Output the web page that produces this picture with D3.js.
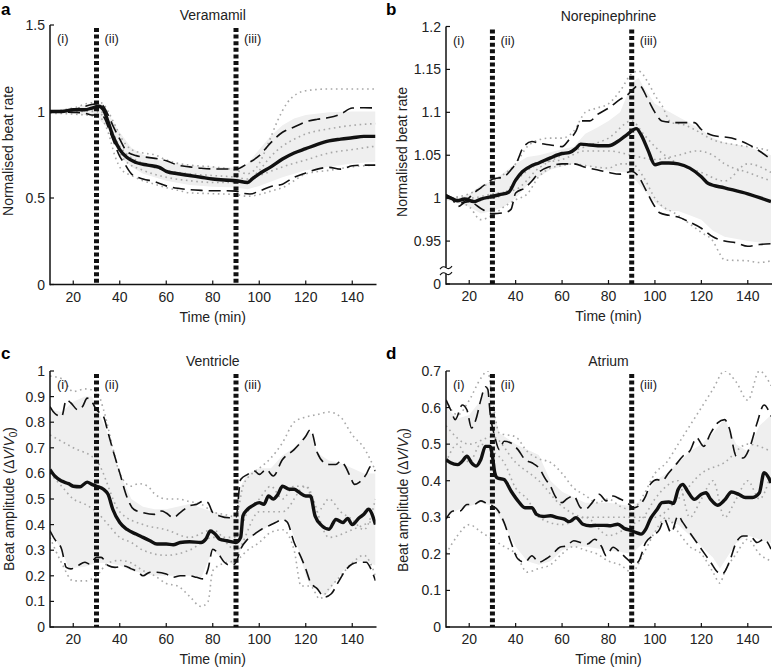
<!DOCTYPE html>
<html><head><meta charset="utf-8">
<script src="https://cdn.jsdelivr.net/npm/d3@7"></script>
<style>
body{margin:0;background:#fff;}
svg text{font-family:"Liberation Sans",Arial,Helvetica,sans-serif;fill:#222;}
</style></head>
<body><svg id="chart" width="773" height="669"></svg>
<script>
// ---------- shared ----------
const xTicks = [20, 40, 60, 80, 100, 120, 140];
const phaseTimes = [30, 90];
const phaseLabels = ["(i)", "(ii)", "(iii)"];

// ---------- panel a : Veramamil ----------
const aYTicks = [0, 0.5, 1, 1.5];
const aYLabels = ["0", "0.5", "1", "1.5"];
const aMean = [[10,1.0],[15,1.0],[20,1.01],[25,1.01],[28,1.02],[31,1.03],[33,1.01],[35,0.94],[37,0.86],[40,0.78],[43,0.735],[47,0.705],[52,0.69],[57,0.677],[60,0.654],[65,0.64],[70,0.63],[75,0.62],[80,0.61],[85,0.604],[90,0.60],[95,0.59],[97,0.61],[100,0.64],[105,0.68],[110,0.725],[115,0.76],[120,0.785],[125,0.81],[130,0.83],[135,0.84],[140,0.848],[145,0.856],[150,0.856]];
const aUpper = [[10,1.0],[20,1.01],[25,1.03],[28,1.04],[31,1.045],[33,1.03],[35,0.98],[37,0.92],[40,0.84],[43,0.77],[47,0.745],[52,0.735],[57,0.725],[60,0.715],[65,0.69],[70,0.68],[75,0.672],[80,0.668],[85,0.668],[90,0.667],[95,0.70],[100,0.745],[105,0.82],[110,0.88],[115,0.91],[120,0.94],[125,0.955],[130,0.965],[135,0.985],[140,1.02],[145,1.022],[150,1.02]];
const aLower = [[10,1.0],[20,0.995],[25,0.99],[28,0.98],[31,0.98],[33,0.97],[35,0.91],[37,0.84],[40,0.74],[42,0.70],[45,0.64],[50,0.61],[55,0.595],[60,0.57],[65,0.556],[70,0.548],[75,0.544],[80,0.542],[85,0.542],[90,0.54],[93,0.527],[96,0.523],[100,0.54],[105,0.567],[110,0.58],[115,0.62],[120,0.645],[125,0.667],[130,0.677],[135,0.667],[140,0.686],[145,0.69],[150,0.69]];
const aBandHi = [[10,1.01],[20,1.02],[30,1.05],[33,1.04],[35,0.99],[40,0.88],[45,0.79],[50,0.75],[60,0.71],[70,0.69],[80,0.68],[90,0.675],[95,0.70],[100,0.78],[105,0.86],[110,0.92],[115,0.96],[120,0.98],[130,0.995],[140,1.0],[150,1.0]];
const aBandLo = [[10,0.99],[20,0.99],[30,0.97],[35,0.90],[40,0.74],[45,0.68],[50,0.64],[60,0.60],[70,0.575],[80,0.565],[90,0.56],[95,0.55],[100,0.57],[110,0.62],[120,0.66],[130,0.68],[140,0.70],[150,0.71]];
const aDot1 = [[10,1.0],[20,1.02],[28,1.05],[32,1.05],[35,1.0],[38,0.92],[41,0.84],[45,0.78],[50,0.76],[55,0.75],[60,0.72],[65,0.70],[70,0.69],[80,0.68],[90,0.66],[95,0.64],[100,0.70],[104,0.82],[108,0.95],[112,1.05],[116,1.10],[120,1.12],[130,1.13],[140,1.13],[150,1.13]];
const aDot2 = [[10,0.99],[20,0.985],[28,0.975],[32,0.96],[35,0.88],[38,0.74],[41,0.66],[45,0.63],[50,0.60],[55,0.58],[60,0.56],[65,0.545],[70,0.53],[80,0.525],[90,0.52],[95,0.51],[100,0.52],[105,0.54],[110,0.56],[115,0.60],[120,0.64],[130,0.66],[140,0.68],[150,0.69]];
const aDot3 = [[10,1.0],[20,1.0],[30,1.01],[34,0.97],[38,0.82],[42,0.72],[50,0.66],[60,0.62],[70,0.60],[80,0.59],[90,0.59],[95,0.60],[100,0.66],[105,0.74],[110,0.80],[115,0.84],[120,0.87],[130,0.90],[140,0.92],[150,0.93]];
const aDot4 = [[10,1.0],[30,1.0],[35,0.93],[40,0.80],[50,0.70],[60,0.66],[70,0.64],[80,0.63],[90,0.62],[95,0.61],[100,0.63],[110,0.68],[120,0.72],[130,0.76],[140,0.78],[150,0.80]];

// ---------- panel b : Norepinephrine ----------
const bYTicks = [0.9, 0.95, 1, 1.05, 1.1, 1.15, 1.2];
const bYLabels = ["0", "0.95", "1", "1.05", "1.1", "1.15", "1.2"];
const bMean = [[10,1.002],[13,0.999],[15,0.997],[18,0.999],[22,0.996],[25,0.999],[30,1.002],[33,1.004],[37,1.007],[40,1.021],[43,1.031],[47,1.038],[50,1.041],[55,1.047],[60,1.052],[63,1.053],[66,1.058],[68,1.063],[72,1.062],[77,1.061],[80,1.061],[85,1.068],[88,1.074],[92,1.081],[94,1.074],[97,1.056],[100,1.039],[103,1.041],[106,1.041],[110,1.040],[115,1.035],[120,1.025],[123,1.017],[130,1.012],[140,1.005],[150,0.996]];
const bUpper = [[10,1.004],[13,1.0],[16,0.994],[19,0.998],[22,1.006],[25,1.012],[30,1.022],[35,1.025],[38,1.033],[41,1.045],[43,1.058],[47,1.066],[50,1.064],[55,1.062],[60,1.06],[63,1.068],[66,1.078],[68,1.09],[72,1.09],[75,1.097],[80,1.105],[85,1.115],[88,1.12],[91,1.128],[93,1.132],[97,1.115],[100,1.10],[103,1.09],[110,1.088],[117,1.088],[120,1.08],[125,1.073],[133,1.07],[140,1.063],[145,1.055],[150,1.045]];
const bLower = [[10,1.004],[13,0.998],[15,0.99],[18,0.995],[20,0.996],[25,0.988],[30,0.982],[35,0.983],[38,0.987],[40,1.006],[44,1.012],[47,1.02],[50,1.03],[55,1.037],[60,1.04],[65,1.04],[70,1.036],[75,1.033],[80,1.03],[85,1.028],[90,1.031],[93,1.025],[96,1.01],[100,0.99],[102,0.983],[106,0.98],[110,0.978],[115,0.972],[120,0.965],[125,0.955],[130,0.95],[135,0.948],[140,0.944],[145,0.946],[150,0.947]];
const bBandHi = [[10,1.003],[15,1.0],[20,1.005],[25,1.015],[30,1.02],[35,1.03],[40,1.04],[45,1.048],[50,1.05],[60,1.057],[65,1.06],[70,1.075],[75,1.082],[80,1.09],[85,1.10],[88,1.12],[90,1.135],[93,1.14],[95,1.13],[100,1.11],[110,1.095],[120,1.08],[125,1.07],[130,1.065],[140,1.06],[150,1.05]];
const bBandLo = [[10,0.998],[20,0.99],[25,0.982],[30,0.985],[35,0.99],[40,1.0],[45,1.015],[50,1.025],[55,1.033],[60,1.037],[65,1.04],[70,1.038],[75,1.035],[80,1.032],[88,1.03],[92,1.02],[95,1.01],[100,0.995],[105,0.985],[110,0.985],[115,0.98],[120,0.975],[125,0.962],[130,0.955],[140,0.95],[150,0.947]];
const bDot1 = [[10,1.0],[20,1.005],[25,1.012],[30,1.02],[35,1.028],[40,1.04],[45,1.06],[50,1.068],[55,1.07],[60,1.07],[65,1.078],[70,1.10],[75,1.105],[80,1.11],[85,1.125],[90,1.145],[93,1.148],[97,1.135],[100,1.12],[103,1.108],[107,1.088],[112,1.086],[117,1.08],[125,1.068],[135,1.062],[145,1.058],[150,1.055]];
const bDot2 = [[10,1.0],[20,0.99],[25,0.975],[30,0.98],[35,0.99],[40,0.998],[45,1.005],[50,1.025],[55,1.035],[60,1.038],[65,1.04],[70,1.038],[80,1.035],[85,1.04],[90,1.04],[95,1.025],[100,1.0],[110,0.98],[120,0.96],[125,0.95],[128,0.935],[130,0.928],[140,0.927],[145,0.925],[150,0.927]];
const bDot3 = [[10,1.0],[20,0.998],[30,1.0],[35,1.005],[40,1.02],[50,1.04],[60,1.045],[70,1.055],[80,1.055],[90,1.05],[100,1.045],[110,1.05],[118,1.055],[125,1.05],[130,1.04],[140,1.03],[150,1.02]];
const bDot4 = [[10,1.0],[20,1.0],[30,1.005],[40,1.01],[50,1.035],[60,1.05],[70,1.06],[80,1.07],[90,1.09],[95,1.075],[100,1.06],[110,1.04],[120,1.03],[130,1.02],[140,1.04],[150,1.03]];

// ---------- panel c : Ventricle ----------
const cYTicks = [0, 0.1, 0.2, 0.3, 0.4, 0.5, 0.6, 0.7, 0.8, 0.9, 1];
const cYLabels = ["0", "0.1", "0.2", "0.3", "0.4", "0.5", "0.6", "0.7", "0.8", "0.9", "1"];
const cMean = [[10,0.615],[12,0.59],[15,0.57],[18,0.56],[20,0.55],[23,0.548],[26,0.566],[28,0.557],[30,0.55],[33,0.538],[35,0.518],[37,0.46],[40,0.408],[43,0.382],[47,0.363],[50,0.35],[53,0.337],[56,0.324],[60,0.324],[63,0.321],[66,0.33],[70,0.333],[75,0.33],[77,0.343],[79,0.375],[81,0.363],[83,0.343],[86,0.337],[90,0.33],[92,0.35],[93,0.434],[95,0.46],[97,0.473],[100,0.486],[102,0.479],[104,0.512],[106,0.5],[108,0.518],[110,0.55],[113,0.538],[115,0.538],[117,0.527],[120,0.512],[122,0.512],[124,0.434],[127,0.395],[130,0.382],[133,0.42],[136,0.408],[138,0.424],[140,0.40],[143,0.427],[145,0.44],[147,0.46],[150,0.40]];
const cUpper = [[10,0.861],[12,0.835],[15,0.822],[17,0.887],[19,0.875],[22,0.848],[24,0.861],[26,0.894],[28,0.88],[30,0.848],[33,0.822],[35,0.758],[37,0.693],[40,0.602],[43,0.51],[46,0.46],[50,0.447],[55,0.44],[58,0.453],[60,0.445],[63,0.427],[66,0.447],[70,0.473],[73,0.479],[76,0.492],[78,0.485],[80,0.447],[83,0.434],[87,0.427],[90,0.43],[92,0.576],[95,0.596],[98,0.609],[100,0.596],[103,0.615],[106,0.59],[110,0.654],[115,0.693],[120,0.745],[122,0.771],[125,0.68],[128,0.641],[130,0.635],[133,0.635],[135,0.648],[137,0.628],[139,0.59],[141,0.557],[143,0.565],[146,0.596],[148,0.628],[150,0.609]];
const cLower = [[10,0.376],[12,0.343],[15,0.304],[17,0.233],[19,0.227],[22,0.24],[25,0.253],[27,0.246],[30,0.272],[32,0.272],[35,0.24],[38,0.233],[42,0.238],[45,0.227],[48,0.214],[50,0.2],[53,0.214],[56,0.214],[60,0.207],[63,0.194],[66,0.2],[70,0.2],[73,0.194],[76,0.188],[78,0.227],[80,0.304],[82,0.291],[85,0.253],[88,0.24],[90,0.253],[92,0.304],[95,0.343],[98,0.363],[101,0.382],[104,0.395],[107,0.408],[110,0.42],[112,0.41],[115,0.33],[118,0.272],[120,0.227],[122,0.175],[125,0.149],[128,0.117],[131,0.13],[134,0.175],[137,0.22],[140,0.246],[143,0.253],[146,0.253],[148,0.227],[150,0.181]];
const cBandHi = [[10,0.85],[15,0.84],[20,0.88],[25,0.9],[28,0.9],[30,0.86],[35,0.75],[40,0.6],[45,0.5],[50,0.47],[55,0.46],[60,0.46],[70,0.48],[80,0.45],[88,0.43],[90,0.43],[92,0.55],[95,0.6],[100,0.62],[105,0.62],[110,0.67],[115,0.7],[120,0.75],[122,0.76],[125,0.68],[130,0.65],[135,0.64],[140,0.62],[145,0.6],[150,0.6]];
const cBandLo = [[10,0.38],[15,0.3],[18,0.23],[20,0.23],[25,0.235],[30,0.25],[35,0.25],[40,0.24],[45,0.22],[50,0.21],[55,0.2],[60,0.2],[70,0.2],[75,0.19],[80,0.3],[85,0.26],[90,0.24],[92,0.3],[95,0.34],[100,0.37],[105,0.4],[110,0.42],[113,0.4],[117,0.3],[120,0.2],[122,0.16],[125,0.15],[128,0.12],[130,0.14],[133,0.18],[136,0.22],[140,0.25],[145,0.26],[150,0.24]];
const cDot1 = [[10,0.98],[15,0.97],[20,0.92],[25,0.93],[30,0.92],[33,0.85],[37,0.7],[40,0.6],[45,0.55],[48,0.56],[52,0.55],[55,0.52],[60,0.5],[65,0.5],[70,0.49],[75,0.48],[80,0.45],[85,0.44],[90,0.43],[93,0.55],[97,0.6],[100,0.62],[105,0.66],[110,0.72],[115,0.8],[120,0.82],[125,0.83],[130,0.84],[135,0.82],[140,0.75],[145,0.7],[150,0.61]];
const cDot2 = [[10,0.35],[15,0.25],[20,0.18],[25,0.18],[30,0.2],[35,0.25],[40,0.26],[45,0.25],[50,0.22],[55,0.2],[60,0.17],[65,0.16],[70,0.12],[75,0.08],[78,0.1],[80,0.22],[85,0.25],[90,0.26],[95,0.3],[100,0.33],[105,0.37],[110,0.38],[115,0.3],[118,0.16],[122,0.16],[126,0.11],[130,0.15],[135,0.2],[140,0.25],[145,0.28],[150,0.2]];
const cDot3 = [[10,0.6],[15,0.55],[20,0.5],[25,0.48],[30,0.45],[35,0.4],[40,0.35],[45,0.33],[50,0.3],[60,0.28],[70,0.3],[80,0.35],[90,0.35],[95,0.45],[100,0.5],[105,0.55],[110,0.5],[115,0.55],[120,0.55],[125,0.45],[130,0.5],[135,0.45],[140,0.42],[145,0.38],[150,0.5]];
const cDot4 = [[10,0.75],[20,0.7],[30,0.65],[40,0.45],[50,0.4],[60,0.38],[70,0.35],[80,0.38],[90,0.3],[100,0.45],[110,0.45],[120,0.55],[130,0.35],[140,0.38],[150,0.42]];

// ---------- panel d : Atrium ----------
const dYTicks = [0, 0.1, 0.2, 0.3, 0.4, 0.5, 0.6, 0.7];
const dYLabels = ["0", "0.1", "0.2", "0.3", "0.4", "0.5", "0.6", "0.7"];
const dMean = [[10,0.458],[12,0.449],[15,0.444],[17,0.453],[19,0.467],[21,0.449],[23,0.44],[25,0.458],[27,0.494],[29,0.494],[30,0.467],[31,0.422],[32,0.408],[35,0.403],[38,0.372],[41,0.345],[44,0.326],[47,0.326],[49,0.308],[52,0.302],[55,0.304],[58,0.299],[61,0.295],[63,0.288],[66,0.299],[69,0.281],[72,0.277],[75,0.278],[78,0.278],[81,0.277],[84,0.281],[87,0.269],[90,0.263],[92,0.258],[94,0.254],[96,0.267],[98,0.295],[101,0.322],[103,0.34],[106,0.342],[108,0.338],[110,0.376],[112,0.39],[114,0.372],[117,0.349],[120,0.363],[122,0.367],[124,0.349],[127,0.333],[130,0.347],[133,0.369],[136,0.363],[139,0.354],[142,0.354],[145,0.367],[147,0.422],[149,0.408],[150,0.394]];
const dUpper = [[10,0.621],[12,0.594],[14,0.567],[17,0.607],[19,0.594],[21,0.544],[23,0.57],[25,0.621],[27,0.657],[28,0.65],[29,0.585],[31,0.521],[33,0.485],[35,0.508],[38,0.503],[41,0.485],[44,0.458],[47,0.449],[50,0.435],[53,0.403],[55,0.385],[57,0.358],[60,0.34],[62,0.35],[65,0.358],[68,0.326],[70,0.322],[73,0.34],[76,0.363],[79,0.345],[82,0.358],[85,0.35],[88,0.34],[91,0.326],[93,0.331],[96,0.358],[98,0.39],[101,0.403],[103,0.4],[106,0.422],[109,0.444],[112,0.467],[115,0.481],[118,0.517],[121,0.494],[124,0.53],[127,0.558],[130,0.567],[132,0.544],[135,0.467],[138,0.462],[141,0.494],[144,0.558],[147,0.607],[150,0.576]];
const dLower = [[10,0.295],[13,0.317],[16,0.317],[19,0.335],[22,0.335],[25,0.345],[27,0.34],[30,0.331],[32,0.322],[35,0.286],[38,0.231],[41,0.186],[44,0.177],[47,0.195],[50,0.177],[53,0.186],[56,0.2],[59,0.218],[62,0.222],[65,0.236],[68,0.231],[71,0.227],[74,0.24],[77,0.22],[79,0.195],[82,0.218],[85,0.204],[88,0.186],[91,0.172],[93,0.18],[96,0.231],[99,0.249],[102,0.267],[104,0.295],[107,0.258],[110,0.304],[112,0.286],[115,0.258],[118,0.231],[121,0.204],[124,0.177],[127,0.15],[129,0.145],[132,0.177],[135,0.231],[138,0.249],[141,0.249],[144,0.231],[147,0.24],[150,0.213]];
const dBandHi = [[10,0.6],[15,0.57],[20,0.58],[25,0.62],[28,0.66],[30,0.6],[33,0.53],[40,0.5],[50,0.47],[55,0.4],[60,0.37],[70,0.34],[80,0.34],[90,0.33],[95,0.35],[100,0.4],[105,0.42],[110,0.45],[115,0.48],[120,0.5],[125,0.53],[130,0.57],[135,0.5],[140,0.48],[145,0.55],[150,0.58]];
const dBandLo = [[10,0.3],[15,0.32],[20,0.33],[25,0.34],[30,0.33],[35,0.28],[40,0.22],[45,0.18],[50,0.17],[55,0.18],[60,0.21],[65,0.22],[70,0.22],[80,0.21],[90,0.2],[95,0.23],[100,0.26],[105,0.29],[110,0.28],[115,0.25],[120,0.22],[125,0.19],[128,0.16],[130,0.18],[135,0.23],[140,0.25],[145,0.24],[150,0.23]];
const dDot1 = [[10,0.62],[15,0.58],[20,0.62],[25,0.68],[28,0.7],[30,0.62],[33,0.53],[40,0.52],[45,0.48],[50,0.46],[55,0.45],[60,0.42],[65,0.38],[70,0.36],[75,0.34],[80,0.35],[85,0.33],[90,0.32],[95,0.36],[100,0.42],[105,0.45],[110,0.5],[115,0.55],[120,0.6],[125,0.65],[130,0.7],[135,0.67],[140,0.62],[145,0.7],[150,0.66]];
const dDot2 = [[10,0.2],[15,0.25],[20,0.28],[25,0.26],[30,0.24],[35,0.22],[40,0.2],[45,0.15],[50,0.16],[55,0.17],[60,0.2],[65,0.22],[70,0.21],[75,0.2],[80,0.18],[85,0.17],[90,0.15],[95,0.2],[100,0.26],[105,0.3],[110,0.26],[115,0.22],[120,0.2],[125,0.15],[128,0.12],[130,0.15],[135,0.2],[140,0.24],[145,0.2],[150,0.18]];
const dDot3 = [[10,0.45],[15,0.5],[20,0.45],[25,0.5],[30,0.48],[35,0.45],[40,0.38],[45,0.35],[50,0.3],[60,0.28],[70,0.3],[80,0.25],[90,0.28],[95,0.3],[100,0.35],[110,0.4],[115,0.3],[120,0.35],[125,0.4],[130,0.3],[135,0.35],[140,0.4],[145,0.35],[150,0.42]];
const dDot4 = [[10,0.55],[20,0.5],[30,0.52],[40,0.45],[50,0.4],[60,0.33],[70,0.3],[80,0.3],[90,0.3],[100,0.3],[110,0.35],[120,0.42],[130,0.45],[140,0.5],[150,0.48]];

// ---------- drawing ----------
const svg = d3.select("#chart");
const FONT = 14;

function drawPanel(p) {
  const x = d3.scaleLinear().domain([10, 150]).range([p.left, p.right]);
  const y = d3.scaleLinear().domain(p.yDomain).range([p.bottom, p.top]);
  const g = svg.append("g");
  const clipId = "clip" + p.letter;
  svg.append("clipPath").attr("id", clipId).append("rect")
    .attr("x", p.left).attr("y", p.top).attr("width", p.right - p.left).attr("height", p.bottom - p.top);
  const plot = g.append("g").attr("clip-path", `url(#${clipId})`);
  const curve = d3.curveMonotoneX;

  // band
  const bandPts = p.bandHi.map(d => [x(d[0]), y(d[1])])
    .concat(p.bandLo.slice().reverse().map(d => [x(d[0]), y(d[1])]));
  plot.append("path").attr("d", "M" + bandPts.join("L") + "Z").attr("fill", "#efefef").attr("stroke", "none");

  const line = d3.line().x(d => x(d[0])).y(d => y(d[1])).curve(curve);
  p.dots.forEach(s => {
    plot.append("path").attr("d", line(s)).attr("fill", "none")
      .attr("stroke", "#a8a8a8").attr("stroke-width", 1.6)
      .attr("stroke-dasharray", "1.6,3.6");
  });
  [p.upper, p.lower].forEach(s => {
    plot.append("path").attr("d", line(s)).attr("fill", "none")
      .attr("stroke", "#111").attr("stroke-width", 1.6)
      .attr("stroke-dasharray", "12,6");
  });
  plot.append("path").attr("d", line(p.mean)).attr("fill", "none")
    .attr("stroke", "#111").attr("stroke-width", 3.4).attr("stroke-linejoin", "round");

  // phase lines
  phaseTimes.forEach(t => {
    g.append("line").attr("x1", x(t)).attr("x2", x(t)).attr("y1", p.top + 3).attr("y2", p.bottom)
      .attr("stroke", "#111").attr("stroke-width", 5).attr("stroke-dasharray", "4,2.6");
  });
  const lblX = [p.left + 7, x(phaseTimes[0]) + 8, x(phaseTimes[1]) + 8];
  phaseLabels.forEach((l, i) => {
    g.append("text").attr("x", lblX[i]).attr("y", p.top + 18).attr("font-size", 13).text(l);
  });

  // axes
  const ax = g.append("g");
  ax.append("line").attr("x1", p.left).attr("x2", p.right + 1).attr("y1", p.bottom).attr("y2", p.bottom)
    .attr("stroke", "#111").attr("stroke-width", 1.5);
  ax.append("line").attr("x1", p.left).attr("x2", p.left).attr("y1", p.top).attr("y2", p.bottom + 0.75)
    .attr("stroke", "#111").attr("stroke-width", 1.5);
  xTicks.forEach(t => {
    ax.append("line").attr("x1", x(t)).attr("x2", x(t)).attr("y1", p.bottom).attr("y2", p.bottom - 4)
      .attr("stroke", "#111").attr("stroke-width", 1.2);
    ax.append("text").attr("x", x(t)).attr("y", p.bottom + 17).attr("text-anchor", "middle")
      .attr("font-size", FONT).text(t);
  });
  p.yTicks.forEach((t, i) => {
    ax.append("line").attr("x1", p.left).attr("x2", p.left + 4).attr("y1", y(t)).attr("y2", y(t))
      .attr("stroke", "#111").attr("stroke-width", 1.2);
    ax.append("text").attr("x", p.left - 5).attr("y", y(t) + 5).attr("text-anchor", "end")
      .attr("font-size", FONT).text(p.yLabels[i]);
  });
  if (p.brk) {
    const yb = y(p.brk);
    ax.append("rect").attr("x", p.left - 3).attr("y", yb - 3).attr("width", 6).attr("height", 6).attr("fill", "#fff");
    [-3, 3].forEach(o => {
      ax.append("path").attr("d", `M${p.left - 6},${yb + o + 1.5} q3,-4 6,-1.5 t6,-1.5`)
        .attr("fill", "none").attr("stroke", "#111").attr("stroke-width", 1.1);
    });
  }

  // titles
  const cx = (p.left + p.right) / 2;
  g.append("text").attr("x", cx).attr("y", p.top - 5.5).attr("text-anchor", "middle")
    .attr("font-size", FONT).text(p.title);
  g.append("text").attr("x", cx).attr("y", p.bottom + 37).attr("text-anchor", "middle")
    .attr("font-size", FONT).text("Time (min)");
  g.append("text").attr("x", p.letterX).attr("y", p.letterY).attr("font-size", 17)
    .attr("font-weight", "bold").style("fill", "#000").text(p.letter);
  const yl = g.append("text").attr("transform", `translate(${p.ylabX},${p.ylabY}) rotate(-90)`)
    .attr("text-anchor", "middle").attr("font-size", FONT);
  if (p.amp) {
    yl.append("tspan").text("Beat amplitude (\u0394");
    yl.append("tspan").attr("font-style", "italic").text("V");
    yl.append("tspan").text("/");
    yl.append("tspan").attr("font-style", "italic").text("V");
    yl.append("tspan").attr("font-size", 10).attr("dy", 3).text("0");
    yl.append("tspan").attr("dy", -3).text(")");
  } else {
    yl.text("Normalised beat rate");
  }
}

drawPanel({letter: "a", title: "Veramamil", left: 50, right: 375.5, top: 25, bottom: 284.5,
  yDomain: [0, 1.5], yTicks: aYTicks, yLabels: aYLabels, mean: aMean, upper: aUpper, lower: aLower,
  bandHi: aBandHi, bandLo: aBandLo, dots: [aDot1, aDot2, aDot3, aDot4],
  letterX: 1, letterY: 15, ylabX: 13, ylabY: 151});
drawPanel({letter: "b", title: "Norepinephrine", left: 446, right: 771, top: 26.5, bottom: 284,
  yDomain: [0.9, 1.2], yTicks: bYTicks, yLabels: bYLabels, mean: bMean, upper: bUpper, lower: bLower,
  bandHi: bBandHi, bandLo: bBandLo, dots: [bDot1, bDot2, bDot3, bDot4], brk: 0.9155,
  letterX: 386, letterY: 15, ylabX: 407, ylabY: 152});
drawPanel({letter: "c", title: "Ventricle", left: 50, right: 375.5, top: 371, bottom: 627, amp: true,
  yDomain: [0, 1], yTicks: cYTicks, yLabels: cYLabels, mean: cMean, upper: cUpper, lower: cLower,
  bandHi: cBandHi, bandLo: cBandLo, dots: [cDot1, cDot2, cDot3, cDot4],
  letterX: 1, letterY: 359, ylabX: 14, ylabY: 499});
drawPanel({letter: "d", title: "Atrium", left: 446, right: 771, top: 371, bottom: 627, amp: true,
  yDomain: [0, 0.7], yTicks: dYTicks, yLabels: dYLabels, mean: dMean, upper: dUpper, lower: dLower,
  bandHi: dBandHi, bandLo: dBandLo, dots: [dDot1, dDot2, dDot3, dDot4],
  letterX: 386, letterY: 359, ylabX: 408, ylabY: 500});
</script></body></html>
